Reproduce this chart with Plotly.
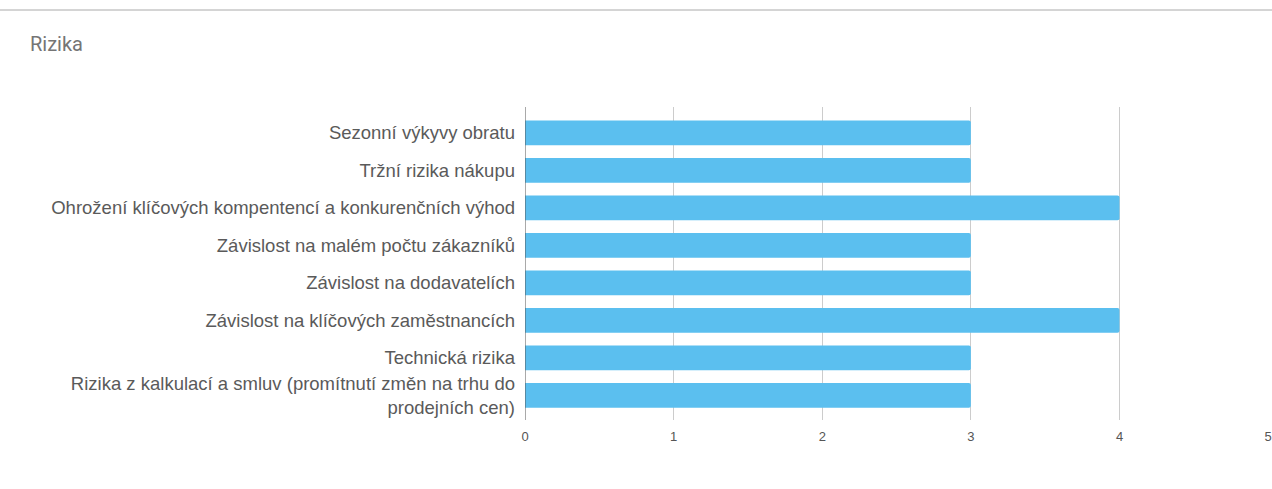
import plotly.graph_objects as go

categories = [
    "Sezonní výkyvy obratu",
    "Tržní rizika nákupu",
    "Ohrožení klíčových kompentencí a konkurenčních výhod",
    "Závislost na malém počtu zákazníků",
    "Závislost na dodavatelích",
    "Závislost na klíčových zaměstnancích",
    "Technická rizika",
    "Rizika z kalkulací a smluv (promítnutí změn na trhu do<br>prodejních cen)",
]
values = [3, 3, 4, 3, 3, 4, 3, 3]
x_ticks = [0, 1, 2, 3, 4, 5]

fig = go.Figure(go.Bar(
    x=values, y=categories, orientation="h",
    marker=dict(color="#5BBFEF", line=dict(width=0)),
    width=0.66,
    hoverinfo="x+y",
))

W, H = 1272, 489
left, right = 525, 0
top, bottom = 107, 69
plot_w = W - left - right
x_max = 5.006

fig.update_layout(
    width=W, height=H,
    margin=dict(l=left, r=right, t=top, b=bottom, pad=0),
    paper_bgcolor="white", plot_bgcolor="white",
    showlegend=False,
    barcornerradius=2,
    font=dict(family="Liberation Sans, Arial, sans-serif", color="#555555"),
    xaxis=dict(
        range=[0, x_max], tickvals=x_ticks, ticktext=[str(t) for t in x_ticks],
        showgrid=True, gridcolor="#CCCCCC", gridwidth=1,
        zeroline=False, showline=False, ticks="",
        tickfont=dict(size=13, color="#555555"),
        ticklabelstandoff=7, ticklabeloverflow="allow",
        fixedrange=True,
    ),
    yaxis=dict(
        autorange=False, range=[7.66, -0.69],
        showgrid=False, zeroline=False,
        tickfont=dict(size=18.5, color="#5A5A5A"),
        ticks="", ticklabelstandoff=9,
        fixedrange=True,
    ),
    shapes=[
        dict(type="line", xref="paper", yref="paper", x0=-1, x1=1.1,
             y0=1 + (top - 10) / (H - top - bottom), y1=1 + (top - 10) / (H - top - bottom),
             line=dict(color="#AAAAAA", width=1)),
        dict(type="line", xref="x", yref="paper", x0=0, x1=0, y0=0, y1=1,
             line=dict(color="#555555", width=1)),
    ],
    annotations=[
        dict(text="Rizika", xref="paper", yref="paper",
             x=(26 - left) / plot_w, y=1 + (top - 44) / (H - top - bottom),
             xanchor="left", yanchor="middle", showarrow=False,
             font=dict(family="Roboto, sans-serif", size=20, color="#757575")),
    ],
)

fig.write_html("out.html", config={"displayModeBar": False},
               post_script="document.body.style.margin='0';")
